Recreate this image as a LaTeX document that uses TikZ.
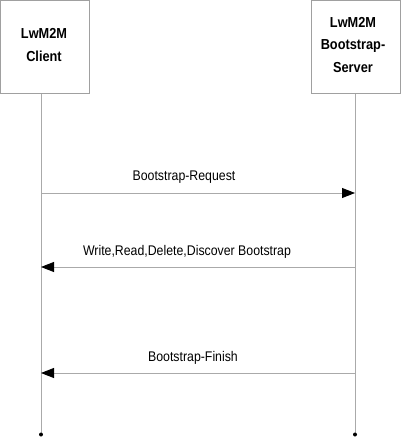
\documentclass[tikz,border=0pt]{standalone}
\usepackage{fontspec}
\setmainfont{Liberation Sans}
\newfontfamily\narrowfont[FakeStretch=0.88]{Liberation Sans}
\usetikzlibrary{arrows.meta}
\definecolor{linegray}{RGB}{170,170,170}
\definecolor{boxgray}{RGB}{160,160,160}
\tikzset{
  x=1pt, y=-1pt,
  actor/.style={draw=boxgray, line width=0.8pt, fill=white},
  actorlabel/.style={font=\narrowfont\fontsize{14.5}{22.5}\selectfont\bfseries, align=center, inner sep=0pt},
  lifeline/.style={draw=linegray, line width=0.9pt},
  msg/.style={draw=linegray, line width=0.9pt, -{Triangle[length=13pt,width=10pt,color=black]}},
  msglabel/.style={font=\narrowfont\fontsize{14}{16}\selectfont, inner sep=0pt},
  enddot/.style={circle, fill=black, inner sep=0pt, minimum size=4pt}
}
\begin{document}
\begin{tikzpicture}
\useasboundingbox (0,0) rectangle (406,446);
% lifelines
\coordinate (cTop) at (41,93);
\coordinate (sTop) at (355,93);
\coordinate (cBot) at (41,434.5);
\coordinate (sBot) at (355,434.5);
\draw[lifeline] (cTop) -- (cBot);
\draw[lifeline] (sTop) -- (sBot);
\node[enddot] (cEnd) at (cBot) {};
\node[enddot] (sEnd) at (sBot) {};
% actor boxes
\draw[actor] (0.5,0.5) rectangle (89,93);
\node[actorlabel] (client) at (44,45) {LwM2M\\Client};
\draw[actor] (311,0.5) rectangle (400,93);
\node[actorlabel] (server) at (353,45) {LwM2M\\Bootstrap-\\Server};
% message anchors
\coordinate (c1) at (41,193); \coordinate (s1) at (355,193);
\coordinate (c2) at (41,267); \coordinate (s2) at (355,267);
\coordinate (c3) at (41,373); \coordinate (s3) at (355,373);
\draw[msg] (c1) -- (s1);
\node[msglabel] (l1) at (184,177) {Bootstrap-Request};
\draw[msg] (s2) -- (c2);
\node[msglabel] (l2) at (187,252) {Write,Read,Delete,Discover Bootstrap};
\draw[msg] (s3) -- (c3);
\node[msglabel] (l3) at (193,358) {Bootstrap-Finish};
\end{tikzpicture}
\end{document}
